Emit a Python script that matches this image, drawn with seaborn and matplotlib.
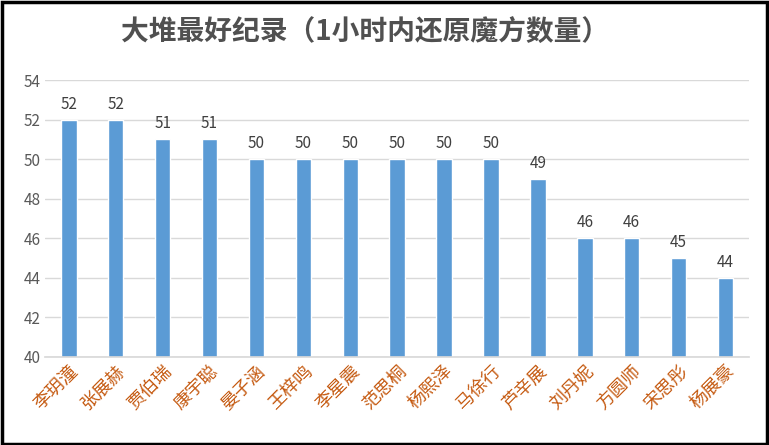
import matplotlib
matplotlib.use("Agg")
import matplotlib.pyplot as plt
import seaborn as sns
import pandas as pd

names = ["李玥潼","张展赫","贾伯瑞","康宇聪","晏子涵","王梓鸣","李星震","范思桐","杨熙泽","马徐行","芦辛展","刘丹妮","方圆师","宋思彤","杨展豪"]
values = [52,52,51,51,50,50,50,50,50,50,49,46,46,45,44]
yticks = [40,42,44,46,48,50,52,54]

sns.set_theme(style="white")
plt.rcParams['font.family'] = ['Noto Sans CJK SC', 'DejaVu Sans']

fig = plt.figure(figsize=(7.69,4.45), dpi=100)
ax = fig.add_axes([0.059, 0.198, 0.915, 0.622])
df = pd.DataFrame({"name": names, "value": values})
sns.barplot(data=df, x="name", y="value", color="#5B9BD5", saturation=1, width=0.33, ax=ax)
ax.set_ylim(40, 54)
ax.set_yticks(yticks)
ax.set_yticklabels([str(t) for t in yticks], color="#595959", fontsize=11)
ax.yaxis.grid(True, color="#D9D9D9", lw=1)
ax.set_axisbelow(True)
for s in ["left","right","top"]:
    ax.spines[s].set_visible(False)
ax.spines["bottom"].set_color("#D9D9D9")
ax.tick_params(axis="y", length=0)
ax.tick_params(axis="x", length=0)
ax.set_xticks(range(len(names)))
ax.set_xticklabels(names, rotation=45, ha="right", rotation_mode="anchor", color="#C55A11", fontsize=13)
ax.set_xlabel(""); ax.set_ylabel("")
for i, v in enumerate(values):
    ax.text(i, v + 0.35, str(v), ha="center", va="bottom", fontsize=11, color="#404040")
fig.text(0.475, 0.925, "大堆最好纪录（1小时内还原魔方数量）", ha="center", va="center", fontsize=20, fontweight="bold", color="#505050")
fig.patches.append(plt.Rectangle((0.002,0.003),0.995,0.993, transform=fig.transFigure, fill=False, ec="black", lw=2.5))
fig.savefig("out.png", dpi=100)
